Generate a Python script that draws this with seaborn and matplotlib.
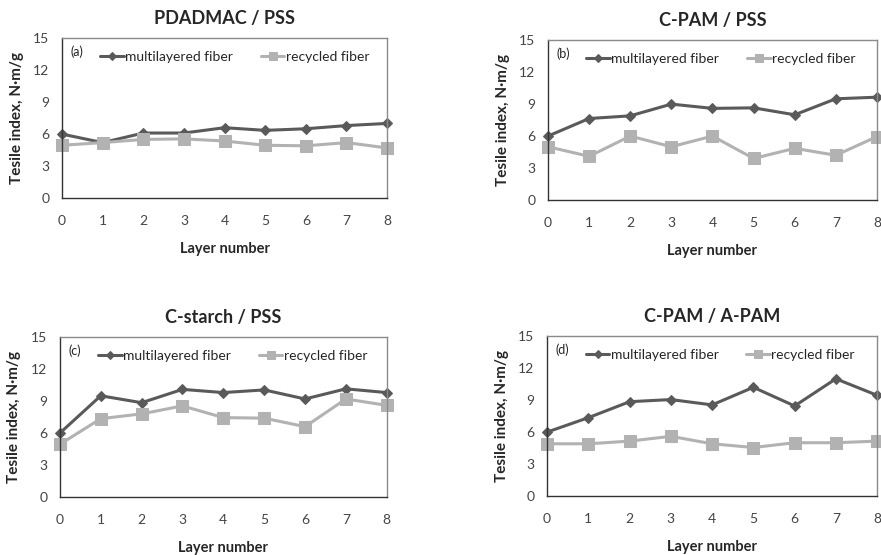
import pandas as pd
import seaborn as sns
import matplotlib.pyplot as plt

# Layer numbers and tensile index values
layers = [0, 1, 2, 3, 4, 5, 6, 7, 8]

titles = ['PDADMAC / PSS', 'C-PAM / PSS', 'C-starch / PSS', 'C-PAM / A-PAM']
tags = ['(a)', '(b)', '(c)', '(d)']

multi_a = [6.0, 5.2, 6.1, 6.1, 6.6, 6.35, 6.5, 6.8, 7.0]
recyc_a = [4.95, 5.2, 5.5, 5.55, 5.35, 4.95, 4.9, 5.2, 4.7]

multi_b = [6.0, 7.65, 7.9, 9.0, 8.6, 8.65, 8.0, 9.5, 9.65]
recyc_b = [5.0, 4.1, 6.0, 5.0, 6.0, 3.9, 4.85, 4.2, 5.95]

multi_c = [6.0, 9.5, 8.85, 10.1, 9.8, 10.05, 9.2, 10.15, 9.8]
recyc_c = [4.95, 7.35, 7.8, 8.55, 7.45, 7.4, 6.6, 9.2, 8.6]

multi_d = [6.0, 7.35, 8.85, 9.05, 8.55, 10.2, 8.45, 11.0, 9.45]
recyc_d = [4.9, 4.9, 5.15, 5.6, 4.9, 4.55, 5.0, 5.0, 5.15]

multi_all = [multi_a, multi_b, multi_c, multi_d]
recyc_all = [recyc_a, recyc_b, recyc_c, recyc_d]

sns.set_theme(style="white")
plt.rcParams['font.family'] = ['Lato', 'DejaVu Sans']

dark = '#5a5a5a'
light = '#b2b2b2'

fig = plt.figure(figsize=(8.81, 5.55), dpi=100)
positions = [
    [0.0704, 0.6432, 0.369, 0.288],
    [0.622, 0.6396, 0.3734, 0.288],
    [0.068, 0.1045, 0.371, 0.288],
    [0.621, 0.1063, 0.3746, 0.288],
]

for i in range(4):
    ax = fig.add_axes(positions[i])
    df = pd.DataFrame({'layer': layers, 'multi': multi_all[i], 'recyc': recyc_all[i]})
    sns.lineplot(data=df, x='layer', y='multi', ax=ax, color=dark, lw=2.2,
                 marker='D', markersize=5, markeredgecolor=dark,
                 label='multilayered fiber', clip_on=False)
    sns.lineplot(data=df, x='layer', y='recyc', ax=ax, color=light, lw=2.2,
                 marker='s', markersize=8, markeredgecolor=light,
                 label='recycled fiber', clip_on=False)
    ax.set_xlim(0, 8)
    ax.set_ylim(0, 15)
    ax.set_xticks(layers)
    ax.set_yticks([0, 3, 6, 9, 12, 15])
    ax.tick_params(axis='both', direction='in', length=3, labelsize=10,
                   labelcolor='#444444', color='#555555', pad=9, width=0.8)
    ax.tick_params(axis='x', pad=12)
    for side in ['top', 'right']:
        ax.spines[side].set_color('#8a8a8a')
        ax.spines[side].set_linewidth(1.0)
    for side in ['left', 'bottom']:
        ax.spines[side].set_color('#333333')
        ax.spines[side].set_linewidth(1.0)
    ax.set_title(titles[i], fontsize=13, fontweight='bold', pad=10)
    ax.set_xlabel('Layer number', fontsize=10.5, fontweight='bold', labelpad=11)
    ax.set_ylabel('Tesile index, N·m/g', fontsize=11, fontweight='bold', labelpad=7)
    ax.text(0.025, 0.915, tags[i], transform=ax.transAxes, fontsize=9,
            color='#222222', va='center')
    ax.legend(loc='center left', bbox_to_anchor=(0.117, 0.885), ncol=2,
              frameon=False, fontsize=10, handlelength=1.7, handletextpad=0.1,
              columnspacing=2.0, borderaxespad=0, borderpad=0, markerscale=0.75)

plt.savefig('out.png', dpi=100)
